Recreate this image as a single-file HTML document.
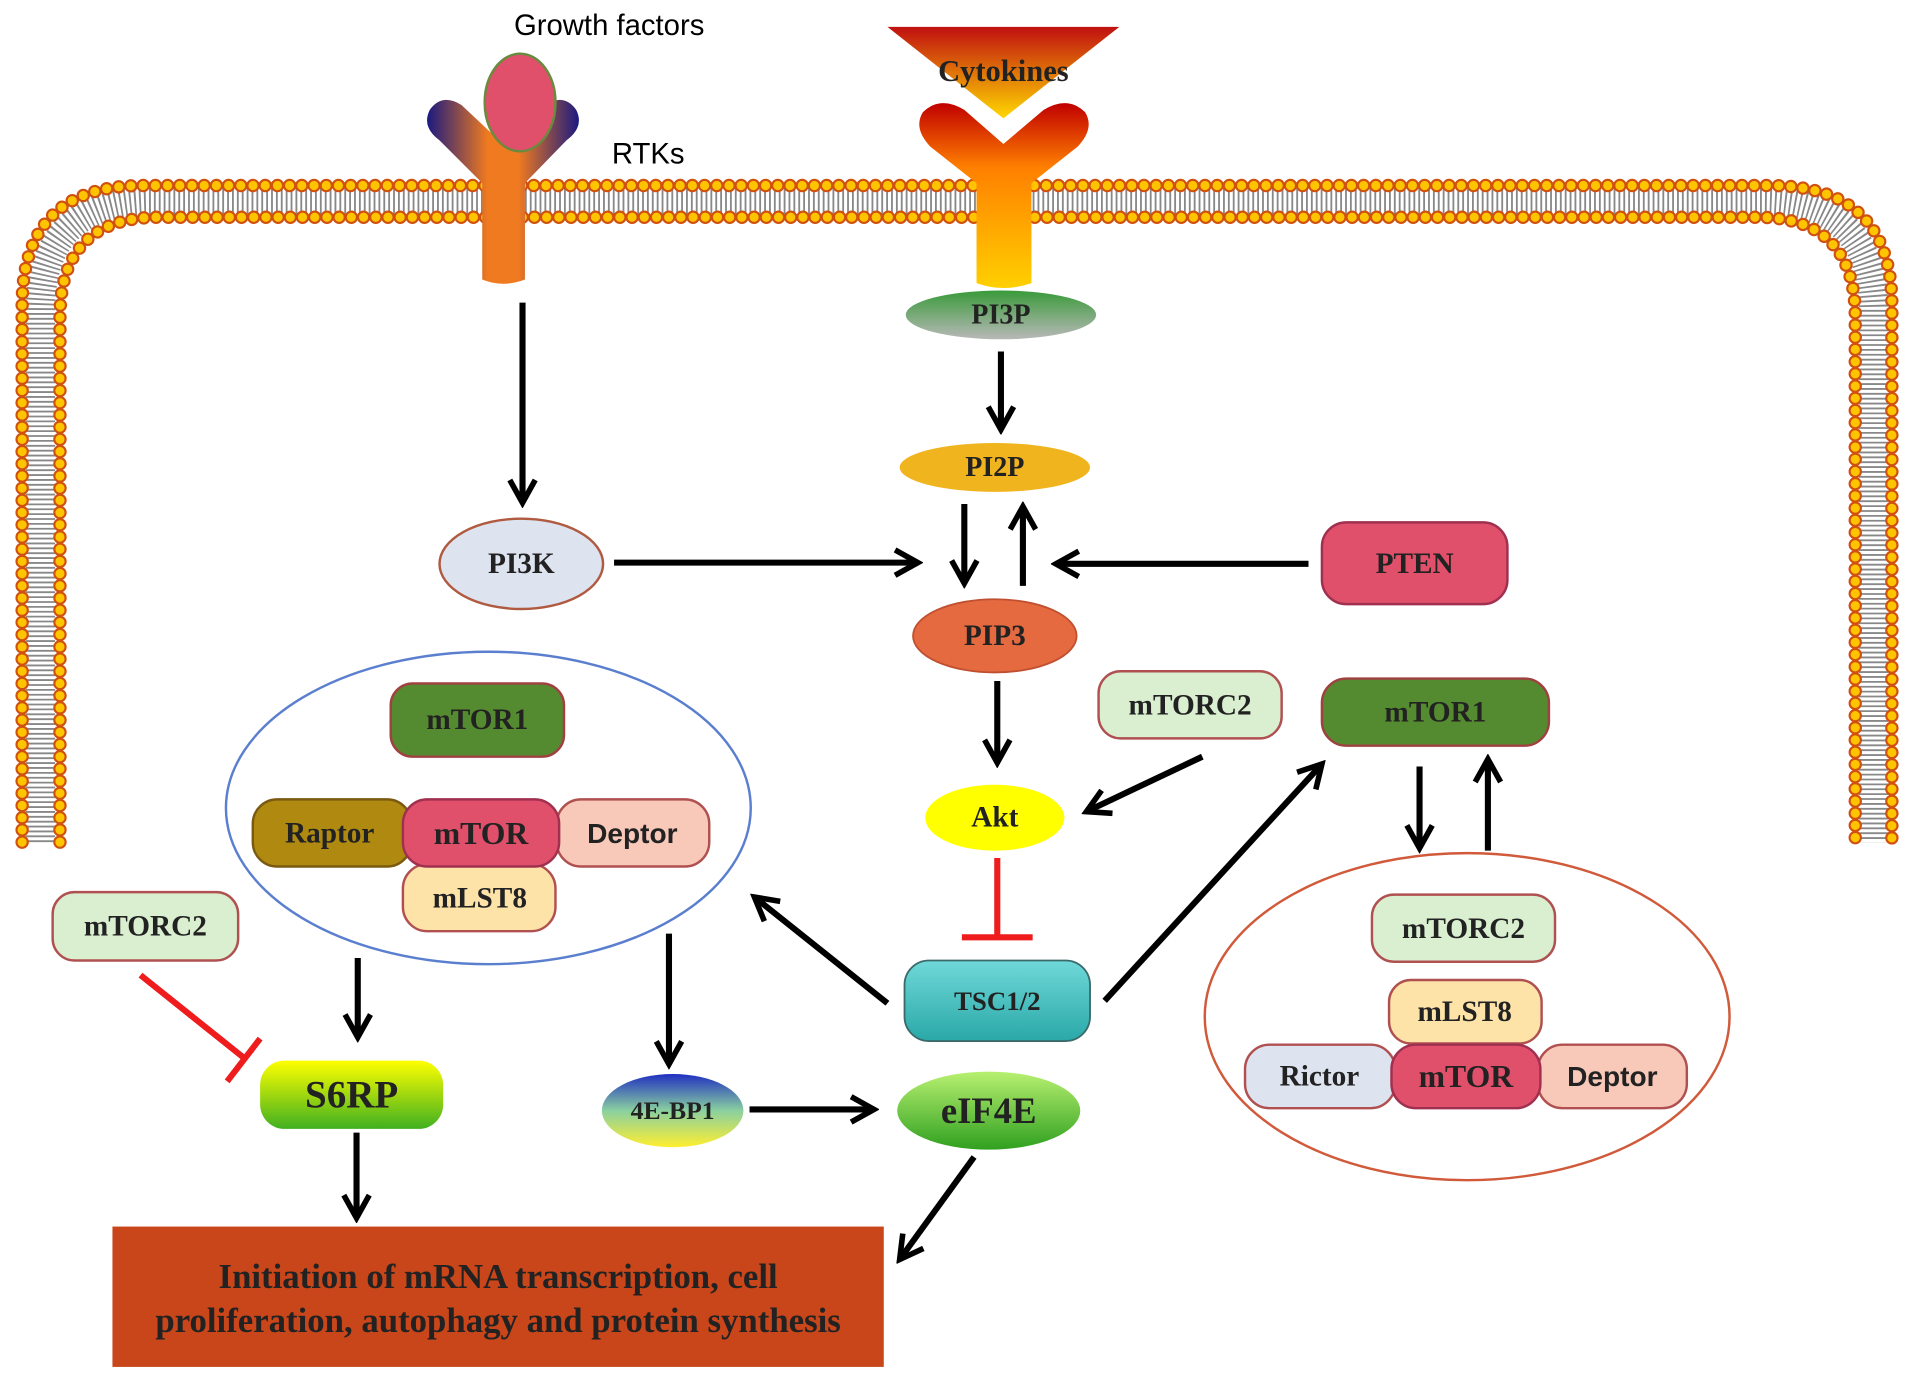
<!DOCTYPE html>
<html><head><meta charset="utf-8"><style>
html,body{margin:0;padding:0;background:#fff}
svg{display:block}
.b{font-family:"Liberation Serif",serif;font-weight:bold;fill:#222;text-anchor:middle;dominant-baseline:central}
</style></head><body>
<svg width="1914" height="1384" viewBox="0 0 1568 1134" xmlns="http://www.w3.org/2000/svg">
<defs>
<marker id="ah" viewBox="0 0 12 12" refX="10" refY="6" markerWidth="5" markerHeight="5" orient="auto" markerUnits="strokeWidth">
<path d="M1,1 L10,6 L1,11" fill="none" stroke="#000" stroke-width="2.2" stroke-linejoin="miter"/>
</marker>
<linearGradient id="rtk" x1="0" x2="1"><stop offset="0" stop-color="#1a1a80"/><stop offset=".4" stop-color="#f07a20"/><stop offset=".6" stop-color="#f07a20"/><stop offset="1" stop-color="#1a1a80"/></linearGradient>
<linearGradient id="cyt" x1="0" y1="0" x2="0" y2="1"><stop offset="0" stop-color="#c01010"/><stop offset="1" stop-color="#ffd800"/></linearGradient>
<linearGradient id="cytr" x1="0" y1="0" x2="0" y2="1"><stop offset="0" stop-color="#c00000"/><stop offset=".35" stop-color="#ff8000"/><stop offset="1" stop-color="#ffd000"/></linearGradient>
<linearGradient id="pi3p" x1="0" y1="0" x2="0" y2="1"><stop offset="0" stop-color="#3a9a3a"/><stop offset="1" stop-color="#b8b8b8"/></linearGradient>
<linearGradient id="tsc" x1="0" y1="0" x2="0" y2="1"><stop offset="0" stop-color="#70d8d8"/><stop offset="1" stop-color="#2aa8a8"/></linearGradient>
<linearGradient id="eif" x1="0" y1="0" x2="0" y2="1"><stop offset="0" stop-color="#b8f070"/><stop offset="1" stop-color="#30a020"/></linearGradient>
<linearGradient id="bp" x1="0" y1="0" x2="0" y2="1"><stop offset="0" stop-color="#2030c0"/><stop offset=".5" stop-color="#8ad0a0"/><stop offset="1" stop-color="#ffee30"/></linearGradient>
<linearGradient id="s6" x1="0" y1="0" x2="0" y2="1"><stop offset="0" stop-color="#ffff00"/><stop offset="1" stop-color="#40b020"/></linearGradient>
</defs>

<g fill="none">
<path d="M33,690 L33,255 Q33,165 123,165 L1445,165 Q1535,165 1535,255 L1535,690" stroke="#888" stroke-width="24" stroke-dasharray="1.5 2.5"/>
<path d="M18,690 L18,250 Q18,152 117,152 L1450,152 Q1550,152 1550,250 L1550,690" stroke="#d05010" stroke-width="11" stroke-linecap="round" stroke-dasharray="0 10"/>
<path d="M18,690 L18,250 Q18,152 117,152 L1450,152 Q1550,152 1550,250 L1550,690" stroke="#ffc400" stroke-width="7.5" stroke-linecap="round" stroke-dasharray="0 10"/>
<path d="M49,690 L49,260 Q49,178 130,178 L1440,178 Q1520,178 1520,260 L1520,690" stroke="#d05010" stroke-width="11" stroke-linecap="round" stroke-dasharray="0 10"/>
<path d="M49,690 L49,260 Q49,178 130,178 L1440,178 Q1520,178 1520,260 L1520,690" stroke="#ffc400" stroke-width="7.5" stroke-linecap="round" stroke-dasharray="0 10"/>
</g>

<path d="M395,229 L395,150 L360,115 Q345,104 352,90 Q362,76 378,86 L412,118 L446,86 Q462,76 472,90 Q479,104 464,115 L430,150 L430,229 Q412,236 395,229 Z" fill="url(#rtk)"/>
<ellipse cx="426" cy="84" rx="29" ry="40" fill="#e0506a" stroke="#6a8a40" stroke-width="2"/>
<text x="499" y="21" font-family="Liberation Sans, sans-serif" font-size="24" text-anchor="middle" dominant-baseline="central">Growth factors</text>
<text x="531" y="126" font-family="Liberation Sans, sans-serif" font-size="24" text-anchor="middle" dominant-baseline="central">RTKs</text>

<path d="M800,232 L800,150 L762,120 Q748,105 756,92 Q770,78 790,90 L822,118 L855,90 Q875,78 889,92 Q897,105 883,120 L845,150 L845,232 Q822,240 800,232 Z" fill="url(#cytr)"/>
<path d="M727,22 L917,22 L822,97 Z" fill="url(#cyt)"/>
<text x="822" y="58" class="b" font-size="25">Cytokines</text>

<ellipse cx="820" cy="258" rx="78" ry="20" fill="url(#pi3p)"/>
<text x="820" y="258" class="b" font-size="23">PI3P</text>
<ellipse cx="815" cy="383" rx="78" ry="20" fill="#f0b41e"/>
<text x="815" y="383" class="b" font-size="23">PI2P</text>
<ellipse cx="427" cy="462" rx="67" ry="37" fill="#dde3ef" stroke="#b05a40" stroke-width="2"/>
<text x="427" y="462" class="b" font-size="24">PI3K</text>
<rect x="1083" y="428" width="152" height="67" rx="20" fill="#e0506a" stroke="#a03050" stroke-width="2"/>
<text x="1159" y="462" class="b" font-size="24">PTEN</text>
<ellipse cx="815" cy="521" rx="67" ry="30" fill="#e56a40" stroke="#c05030" stroke-width="1.5"/>
<text x="815" y="521" class="b" font-size="24">PIP3</text>
<rect x="900" y="550" width="150" height="55" rx="18" fill="#d9efd0" stroke="#b05050" stroke-width="2"/>
<text x="975" y="578" class="b" font-size="24">mTORC2</text>
<rect x="1083" y="556" width="186" height="55" rx="20" fill="#558b30" stroke="#a04040" stroke-width="2"/>
<text x="1176" y="584" class="b" font-size="24">mTOR1</text>
<ellipse cx="815" cy="670" rx="57" ry="27" fill="#ffff00"/>
<text x="815" y="670" class="b" font-size="24">Akt</text>
<rect x="741" y="787" width="152" height="66" rx="20" fill="url(#tsc)" stroke="#3a6a6a" stroke-width="1.5"/>
<text x="817" y="820" class="b" font-size="22">TSC1/2</text>
<ellipse cx="810" cy="910" rx="75" ry="32" fill="url(#eif)"/>
<text x="810" y="910" class="b" font-size="30">eIF4E</text>
<ellipse cx="551" cy="910" rx="58" ry="30" fill="url(#bp)"/>
<text x="551" y="910" class="b" font-size="21">4E-BP1</text>
<rect x="213" y="869" width="150" height="56" rx="20" fill="url(#s6)"/>
<text x="288" y="897" class="b" font-size="32">S6RP</text>
<rect x="43" y="731" width="152" height="56" rx="18" fill="#d9efd0" stroke="#b05050" stroke-width="2"/>
<text x="119" y="759" class="b" font-size="24">mTORC2</text>

<rect x="92" y="1005" width="632" height="115" fill="#c8461a"/>
<text x="408" y="1046" class="b" font-size="28.5">Initiation of mRNA transcription, cell</text>
<text x="408" y="1082" class="b" font-size="28.5">proliferation, autophagy and protein synthesis</text>

<ellipse cx="400" cy="662" rx="215" ry="128" fill="none" stroke="#5b7fcf" stroke-width="2"/>
<rect x="320" y="560" width="142" height="60" rx="18" fill="#558b30" stroke="#a04040" stroke-width="2"/>
<text x="391" y="590" class="b" font-size="24">mTOR1</text>
<rect x="207" y="655" width="130" height="55" rx="20" fill="#b08a10" stroke="#7a5a10" stroke-width="2"/>
<text x="270" y="683" class="b" font-size="24">Raptor</text>
<rect x="456" y="655" width="125" height="55" rx="20" fill="#f8c8b8" stroke="#b05050" stroke-width="2"/>
<text x="518" y="683" class="b" font-size="23" style="font-family:'Liberation Sans',sans-serif">Deptor</text>
<rect x="330" y="708" width="125" height="55" rx="20" fill="#fde3a8" stroke="#b05050" stroke-width="2"/>
<text x="393" y="736" class="b" font-size="24">mLST8</text>
<rect x="330" y="655" width="128" height="55" rx="20" fill="#e0506a" stroke="#a03050" stroke-width="2"/>
<text x="394" y="683" class="b" font-size="26">mTOR</text>

<ellipse cx="1202" cy="833" rx="215" ry="134" fill="none" stroke="#d05a3a" stroke-width="2"/>
<rect x="1124" y="733" width="150" height="55" rx="18" fill="#d9efd0" stroke="#b05050" stroke-width="2"/>
<text x="1199" y="761" class="b" font-size="24">mTORC2</text>
<rect x="1138" y="803" width="125" height="52" rx="18" fill="#fde3a8" stroke="#b05050" stroke-width="2"/>
<text x="1200" y="829" class="b" font-size="24">mLST8</text>
<rect x="1020" y="856" width="123" height="52" rx="20" fill="#dde3ef" stroke="#b05050" stroke-width="2"/>
<text x="1081" y="882" class="b" font-size="24">Rictor</text>
<rect x="1260" y="856" width="122" height="52" rx="20" fill="#f8c8b8" stroke="#b05050" stroke-width="2"/>
<text x="1321" y="882" class="b" font-size="23" style="font-family:'Liberation Sans',sans-serif">Deptor</text>
<rect x="1140" y="856" width="122" height="52" rx="20" fill="#e0506a" stroke="#a03050" stroke-width="2"/>
<text x="1201" y="882" class="b" font-size="26">mTOR</text>

<g stroke="#000" stroke-width="5" fill="none" marker-end="url(#ah)">
<line x1="428" y1="248" x2="428" y2="412"/>
<line x1="820" y1="288" x2="820" y2="352"/>
<line x1="503" y1="461" x2="752" y2="461"/>
<line x1="790" y1="413" x2="790" y2="478"/>
<line x1="838" y1="480" x2="838" y2="415"/>
<line x1="1072" y1="462" x2="865" y2="462"/>
<line x1="817" y1="558" x2="817" y2="625"/>
<line x1="985" y1="620" x2="890" y2="665"/>
<line x1="727" y1="822" x2="618" y2="735"/>
<line x1="905" y1="820" x2="1083" y2="626"/>
<line x1="1163" y1="628" x2="1163" y2="695"/>
<line x1="1219" y1="697" x2="1219" y2="622"/>
<line x1="293" y1="785" x2="293" y2="850"/>
<line x1="548" y1="765" x2="548" y2="872"/>
<line x1="614" y1="909" x2="716" y2="909"/>
<line x1="292" y1="928" x2="292" y2="998"/>
<line x1="798" y1="948" x2="737" y2="1032"/>
</g>
<g stroke="#ee1c1c" stroke-width="5" fill="none">
<line x1="817" y1="703" x2="817" y2="767"/>
<line x1="788" y1="768" x2="846" y2="768"/>
<line x1="115" y1="799" x2="200" y2="867"/>
<line x1="186" y1="886" x2="213" y2="851"/>
</g>
</svg>
</body></html>
